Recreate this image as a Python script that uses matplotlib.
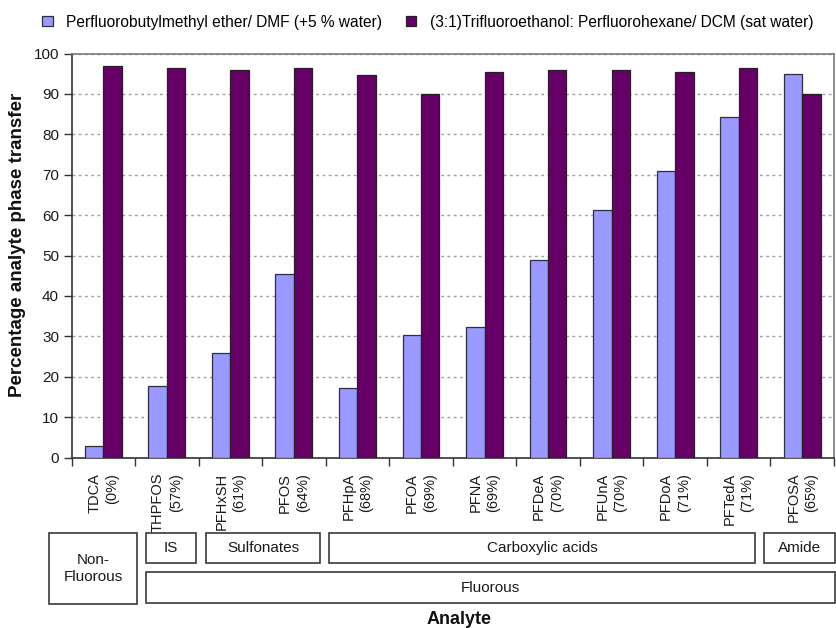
import numpy as np
import matplotlib
matplotlib.use("Agg")
import matplotlib.pyplot as plt
from matplotlib.patches import Rectangle

plt.rcParams['font.family'] = ['Liberation Sans', 'DejaVu Sans']

# Analytes and their fluorine content
analytes = ['TDCA', 'THPFOS', 'PFHxSH', 'PFOS', 'PFHpA', 'PFOA',
            'PFNA', 'PFDeA', 'PFUnA', 'PFDoA', 'PFTedA', 'PFOSA']
fluorine_pct = ['0%', '57%', '61%', '64%', '68%', '69%',
                '69%', '70%', '70%', '71%', '71%', '65%']

# Percentage analyte phase transfer for the two solvent systems
series_names = ['Perfluorobutylmethyl ether/ DMF (+5 % water)',
                '(3:1)Trifluoroethanol: Perfluorohexane/ DCM (sat water)']
pfbme_dmf = [2.8, 17.6, 25.8, 45.3, 17.3, 30.4, 32.4, 48.8, 61.3, 70.9, 84.2, 95.0]
tfe_pfh_dcm = [97.0, 96.4, 96.0, 96.4, 94.6, 90.0, 95.3, 96.0, 96.0, 95.3, 96.4, 90.0]

W, H = 836, 628
fig = plt.figure(figsize=(W / 100, H / 100), dpi=100)
ax = fig.add_axes([71.5 / W, 1 - 457.5 / H, 762.5 / W, 404 / H])

x = np.arange(len(analytes)) + 0.5
bw = 0.29
b1 = ax.bar(x - bw / 2, pfbme_dmf, bw, color='#9999FF', edgecolor='#2e2e3e',
            linewidth=0.9, zorder=3)
b2 = ax.bar(x + bw / 2, tfe_pfh_dcm, bw, color='#660066', edgecolor='#2a1a2a',
            linewidth=0.9, zorder=3)

ax.set_xlim(0, len(analytes))
ax.set_ylim(0, 100)
ax.set_yticks(np.arange(0, 101, 10))
ax.yaxis.grid(True, linestyle=(0, (2, 2.5)), color='#a0a0a0', linewidth=1)
ax.set_axisbelow(True)

# boundary ticks between analytes, labels at centres
ax.set_xticks(np.arange(len(analytes) + 1))
ax.set_xticklabels([])
ax.set_xticks(x, minor=True)
ax.set_xticklabels([f'{a}\n({p})' for a, p in zip(analytes, fluorine_pct)],
                   minor=True, rotation=90, multialignment='right',
                   linespacing=1.35, fontsize=10.5, color='#1a1a1a')
ax.tick_params(axis='x', which='minor', length=0, pad=11)
ax.tick_params(axis='x', which='major', length=6, width=1, color='#333333')
ax.tick_params(axis='y', length=6, width=1, color='#333333', pad=3,
               labelsize=11, labelcolor='#1a1a1a')

for side in ('left', 'bottom'):
    ax.spines[side].set_color('#333333')
    ax.spines[side].set_linewidth(1.2)
for side in ('top', 'right'):
    ax.spines[side].set_color('#7a7a7a')
    ax.spines[side].set_linewidth(1.2)

fig.text(18 / W, 1 - 245 / H, 'Percentage analyte phase transfer', rotation=90,
         ha='center', va='center', fontsize=13.5, fontweight='bold', color='#111111')
fig.text(459 / W, 1 - 619 / H, 'Analyte', ha='center', va='center',
         fontsize=13, fontweight='bold', color='#111111')

fig.legend([b1, b2], series_names, loc='center left',
           bbox_to_anchor=(42 / W, 1 - 22 / H), ncol=2, frameon=False,
           fontsize=11.2, handlelength=0.68, handleheight=0.68,
           handletextpad=0.85, columnspacing=1.55, borderpad=0, borderaxespad=0)


def group_box(x0, y0, x1, y1, label, tx=None, ty=None):
    rect = Rectangle((x0 / W, 1 - y1 / H), (x1 - x0) / W, (y1 - y0) / H,
                     transform=fig.transFigure, fill=False,
                     edgecolor='#3a3a3a', linewidth=1.2, clip_on=False)
    fig.add_artist(rect)
    cx = (x0 + x1) / 2 if tx is None else tx
    cy = (y0 + y1) / 2 if ty is None else ty
    fig.text(cx / W, 1 - cy / H, label, ha='center', va='center',
             fontsize=11, color='#1a1a1a', linespacing=1.35)


group_box(49, 533, 137, 604, 'Non-\nFluorous')
group_box(146, 533, 196, 563, 'IS')
group_box(206, 533, 320, 563, 'Sulfonates')
group_box(329, 533, 755, 563, 'Carboxylic acids')
group_box(764, 533, 834.5, 563, 'Amide')
group_box(146, 572, 834.5, 603, 'Fluorous')

fig.savefig('out.png', dpi=100)
